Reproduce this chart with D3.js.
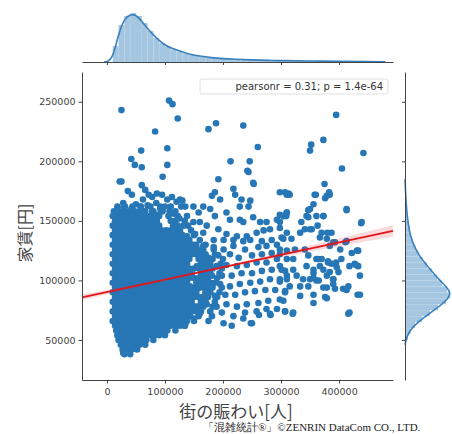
<!DOCTYPE html>
<html>
<head>
<meta charset="utf-8">
<script src="https://cdn.jsdelivr.net/npm/d3@7"></script>
<style>
  body { margin: 0; background: #fff; }
  .tick text { font-family: "DejaVu Sans", sans-serif; fill: #444; }
</style>
</head>
<body>
<svg id="chart" width="452" height="434"></svg>
<script>
// values (population in thousands of people, rent in thousands of yen)
const xTicks = [0, 100000, 200000, 300000, 400000];
const yTicks = [50000, 100000, 150000, 200000, 250000];

// the solid core of the cloud, one row per rent level: [rent, [population...]]
const coreRows = [
  [162, [18, 30, 44, 58, 75, 92, 110, 128]],
  [158, [12, 21, 30, 39, 48, 57, 66, 80, 96, 118]],
  [154, [10, 18, 26, 34, 42, 50, 58, 66, 74, 82, 90, 106, 122]],
  [150, [14, 22, 30, 38, 46, 54, 62, 70, 78, 86, 110, 118, 134]],
  [146, [10, 18, 26, 34, 42, 50, 58, 66, 74, 82, 90, 114, 122, 140]],
  [142, [14, 22, 30, 38, 46, 54, 62, 70, 78, 86, 94, 102, 110, 118, 126, 145]],
  [138, [10, 18, 26, 34, 42, 50, 58, 66, 74, 82, 90, 98, 106, 114, 122, 130, 150]],
  [134, [14, 22, 30, 38, 46, 54, 62, 70, 78, 86, 94, 102, 110, 118, 126, 134, 142, 160]],
  [130, [10, 18, 26, 34, 42, 50, 58, 66, 74, 82, 90, 98, 106, 114, 122, 130, 138, 146, 154, 170]],
  [126, [14, 22, 30, 38, 46, 54, 62, 70, 78, 86, 94, 102, 110, 118, 126, 134, 142, 150, 158, 166, 184]],
  [122, [10, 18, 26, 34, 42, 50, 58, 66, 74, 82, 90, 98, 106, 114, 122, 130, 138, 146, 154, 162, 170, 186]],
  [118, [14, 22, 30, 38, 46, 54, 62, 70, 78, 86, 94, 102, 110, 118, 126, 134, 142, 158, 166, 174, 182, 200]],
  [114, [10, 18, 26, 34, 42, 50, 58, 66, 74, 82, 90, 98, 106, 114, 122, 130, 138, 162, 170, 178, 196]],
  [110, [14, 22, 30, 38, 46, 54, 62, 70, 78, 86, 94, 102, 110, 118, 126, 134, 142, 150, 158, 166, 182, 198]],
  [106, [10, 18, 26, 34, 42, 50, 58, 66, 74, 82, 90, 98, 106, 114, 122, 130, 138, 146, 162, 170, 178, 194]],
  [102, [14, 22, 30, 38, 46, 54, 62, 70, 78, 86, 94, 102, 110, 118, 126, 134, 142, 150, 158, 166, 174, 190]],
  [98,  [10, 18, 26, 34, 42, 50, 58, 66, 74, 82, 90, 98, 106, 114, 122, 130, 138, 154, 162, 170, 178, 186]],
  [94,  [14, 22, 30, 38, 46, 54, 62, 70, 78, 86, 94, 102, 110, 118, 126, 134, 142, 150, 158, 166, 174, 182, 198]],
  [90,  [10, 18, 26, 34, 42, 50, 58, 66, 74, 82, 90, 98, 106, 114, 122, 130, 138, 146, 154, 170, 178, 194]],
  [86,  [14, 22, 30, 38, 46, 54, 62, 70, 78, 86, 94, 102, 110, 118, 126, 134, 142, 150, 158, 166, 174, 190]],
  [82,  [10, 18, 26, 34, 42, 50, 58, 66, 74, 82, 90, 98, 106, 114, 122, 130, 138, 146, 162, 170, 186]],
  [78,  [14, 22, 30, 38, 46, 54, 62, 70, 78, 86, 94, 102, 110, 118, 126, 134, 142, 150, 158, 166, 182]],
  [74,  [10, 18, 26, 34, 42, 50, 58, 66, 74, 82, 90, 98, 106, 114, 122, 130, 138, 146, 154, 162, 178]],
  [70,  [14, 22, 30, 38, 46, 54, 62, 70, 78, 86, 94, 102, 110, 118, 126, 134, 142, 158]],
  [66,  [10, 18, 26, 34, 42, 50, 58, 66, 74, 82, 90, 98, 106, 114, 122, 130, 138, 150]],
  [62,  [14, 22, 30, 38, 46, 54, 62, 70, 78, 86, 94, 102, 110, 118, 126, 134]],
  [58,  [16, 24, 32, 40, 48, 56, 64, 72, 80, 88, 96, 104, 118]],
  [54,  [18, 26, 34, 42, 50, 58, 66, 74, 82, 90, 100]],
  [50,  [20, 28, 36, 44, 52, 60, 68, 80]],
  [46,  [24, 32, 40, 48, 56, 66]],
  [42,  [27, 35, 43, 52]],
  [38,  [30, 40]]
];

// loose points: [population, rent]
const spread = [
  [22,183],[36,175],[43,172],[60,180],[66,176],[72,172],[62,168],[78,170],[86,173],[95,172],
  [104,168],[112,170],[120,166],[130,167],[28,165],[31,162],[50,164],[58,162],[70,163],[85,165],
  [92,160],[100,162],[108,158],[115,156],[125,152],[88,155],[78,158],[65,158],[42,160],[20,160],
  [244,191],[192,185],[252,182],[298,174],[310,172],[218,177],[221,172],[186,174],[181,171],[195,168],
  [232,168],[247,167],[244,162],[229,162],[126,168],[135,162],[149,162],[166,162],[138,154],[158,157],
  [178,160],[186,154],[206,157],[212,151],[229,151],[252,153],[235,149],[264,149],[275,149],[293,151],
  [304,154],[310,157],[270,142],[281,143],[298,144],[310,140],[258,140],[241,137],[224,137],[206,139],
  [192,143],[172,146],[160,149],[149,149],[132,146],[138,137],[152,139],[166,140],[184,134],[201,134],
  [218,134],[235,133],[247,134],[267,133],[284,134],[301,136],[293,130],[275,129],[261,128],[238,126],
  [218,129],[201,126],[184,128],[166,129],[149,130],[132,129],[126,121],[143,122],[158,121],[175,119],
  [192,121],[212,122],[227,119],[250,121],[267,122],[284,123],[298,122],[310,125],[293,118],[275,115],
  [258,115],[241,113],[224,112],[206,113],[189,112],[172,111],[155,112],[138,109],[126,104],[146,104],
  [163,102],[181,104],[198,104],[215,104],[232,106],[250,106],[267,108],[284,109],[301,109],[310,104],
  [298,99],[281,101],[264,99],[247,98],[229,97],[212,95],[195,97],[178,95],[160,94],[143,95],
  [132,90],[152,87],[169,88],[186,87],[204,88],[221,88],[238,90],[255,91],[273,92],[290,92],
  [307,91],[298,84],[278,83],[261,81],[241,80],[224,78],[206,80],[189,78],[172,80],[155,78],
  [138,78],[143,70],[160,72],[181,70],[198,73],[218,70],[238,73],[258,74],[275,76],[293,76],
  [281,72],[250,64],[135,63],[201,64],[150,68],[175,66],[215,62],[235,68],[262,71],[320,72],
  [358,172],[384,172],[376,169],[356,164],[347,159],[413,160],[439,149],[307,174],[315,172],[310,157],
  [304,154],[298,149],[335,149],[344,154],[361,154],[373,154],[353,143],[341,143],[333,140],[370,140],
  [387,140],[367,136],[379,135],[393,132],[413,133],[304,135],[318,135],[298,126],[324,126],[341,126],
  [384,129],[402,126],[422,123],[433,125],[310,118],[321,118],[347,121],[361,118],[370,118],[381,116],
  [387,114],[404,118],[427,114],[433,112],[298,112],[307,108],[321,109],[344,112],[356,109],[367,112],
  [373,109],[396,111],[384,107],[399,107],[327,104],[338,101],[350,101],[356,102],[361,100],[379,104],
  [390,101],[310,101],[298,101],[315,95],[333,95],[347,95],[373,94],[390,97],[393,93],[416,95],
  [407,93],[307,90],[333,87],[356,88],[376,86],[436,88],[304,83],[321,73],[307,74],[416,72]
];

const outliers = [
  [25,243],[107,251],[113,248],[122,236],[83,225],[175,227],[188,232],[235,230],[395,239],[373,218],
  [352,214],[350,209],[442,207],[260,212],[405,194],[213,200],[246,200],[242,192],[104,211],[59,209],
  [42,202],[48,197],[60,195],[104,197],[96,187],[25,183],[253,181],[375,181],[313,173],[360,172],
  [379,171],[383,174],[350,160],[347,153],[373,154],[413,159],[438,148],[350,143],[363,146],[380,140],
  [298,155],[309,154],[390,132],[411,132],[431,125],[364,118],[381,115],[395,115],[418,112],[429,113],
  [356,106],[365,100],[390,101],[379,94],[413,92],[432,88],[436,104],[418,73],[379,85],[356,81],
  [282,71],[307,74],[248,64],[134,62],[97,55],[28,39],[40,47],[54,48]
];

// regression line end points and its confidence band: [population, low, high]
const regLine = [[-43, 85.7], [493, 141.6]];
const regBand = [[-43,83.3,88.1],[0,88.4,92],[100,99.7,101.5],[150,104.9,106.5],[200,110,112.2],
                 [300,119.5,123.5],[400,128.7,135.3],[493,136.8,146.4]];

// top margin: population histogram (10k bins from 10k) and kde
const popBinStart = 10, popBinWidth = 10;
const popHist = [16, 37, 46, 49, 46, 39, 31, 24, 19, 15.5, 12.5, 10.5, 8.5, 7, 6, 5.2, 4.5, 4, 3.6, 3.2,
                 2.9, 2.7, 2.5, 2.3, 2.1, 2, 1.8, 1.7, 1.6, 1.5, 1.4, 1.3, 1.2, 1.1, 1.0, 1.0, 0.9, 0.8,
                 0.8, 0.7, 0.6, 0.5, 0.5, 0.4];
const popKde = [[-5,0],[0,0.4],[5,2],[10,6],[15,16],[20,27],[25,36],[30,42],[35,45.5],[40,47],[45,47.5],
                [50,46.5],[55,44],[60,40.5],[70,33.5],[80,27],[90,21.5],[100,17],[110,14],[120,12],
                [140,8],[160,5.8],[180,4.3],[200,3.3],[220,2.7],[250,2.1],[280,1.6],[300,1.4],
                [350,1.0],[400,0.7],[450,0.4],[480,0.1]];

// right margin: rent histogram (5k bins from 45k) and kde
const rentBinStart = 45, rentBinWidth = 5;
const rentHist = [1, 3, 5.5, 10, 17, 25, 33, 41, 45, 42, 37, 32, 27, 22, 17.5, 13.5, 10.5, 8, 6,
                  4.5, 3.3, 2.4, 1.8, 1.3, 1, 0.8, 0.6, 0.5];
const rentKde = [[46,0],[50,1],[55,3],[60,7],[65,13],[70,21],[75,29],[80,37],[85,43],[88,45],
                 [91,44.5],[95,41],[100,35],[105,29.5],[110,24.5],[115,19.5],[120,15],[125,11.5],
                 [130,8.7],[135,6.5],[140,4.8],[150,2.8],[160,1.6],[170,0.8],[185,0]];

const K = 1000;

const svg = d3.select("#chart");

const x = d3.scaleLinear().domain([-43000, 493000]).range([82, 393]);
const y = d3.scaleLinear().domain([16400, 275000]).range([380, 72]);
const hTop = d3.scaleLinear().domain([0, 48]).range([62, 14]);
const wRight = d3.scaleLinear().domain([0, 45]).range([405, 450]);

const points = coreRows.flatMap(([r, xs]) => xs.map(p => [p, r]))
  .concat(spread)
  .concat(outliers);

// scatter
svg.append("g")
  .selectAll("circle")
  .data(points)
  .enter()
  .append("circle")
  .attr("cx", d => x(d[0] * K))
  .attr("cy", d => y(d[1] * K))
  .attr("r", 3.3)
  .style("fill", "#2777b6");

// regression band + line
let band = d3.area()
  .x(d => x(d[0] * K))
  .y0(d => y(d[1] * K))
  .y1(d => y(d[2] * K));
svg.append("path")
  .attr("d", band(regBand))
  .style("fill", "#e8262a")
  .style("fill-opacity", 0.18);

svg.append("path")
  .attr("d", d3.line().x(d => x(d[0] * K)).y(d => y(d[1] * K))(regLine))
  .style("fill", "none")
  .style("stroke", "#e3161c")
  .style("stroke-width", 1.8);

// main axes
let xAxis = svg.append("g")
  .attr("transform", "translate(0,380)")
  .call(d3.axisBottom(x).tickValues(xTicks).tickSize(3.5).tickSizeOuter(0).tickFormat(d3.format("d")));
let yAxis = svg.append("g")
  .attr("transform", "translate(82,0)")
  .call(d3.axisLeft(y).tickValues(yTicks).tickSize(3.5).tickSizeOuter(0).tickFormat(d3.format("d")));
[xAxis, yAxis].forEach(a => {
  a.select(".domain").style("stroke", "#444");
  a.selectAll(".tick line").style("stroke", "#444");
  a.selectAll(".tick text").style("font-size", "9.5px");
});
xAxis.selectAll(".tick text").attr("dy", "0.9em");

// top marginal
let topG = svg.append("g");
topG.selectAll("rect")
  .data(popHist)
  .enter()
  .append("rect")
  .attr("x", (d, i) => x((popBinStart + i * popBinWidth) * K))
  .attr("width", x(popBinWidth * K) - x(0))
  .attr("y", d => hTop(d))
  .attr("height", d => hTop(0) - hTop(d))
  .style("fill", "#a4c6e0");
topG.append("path")
  .attr("d", d3.line().curve(d3.curveBasis).x(d => x(d[0] * K)).y(d => hTop(d[1]))(popKde))
  .style("fill", "none")
  .style("stroke", "#3a7fbb")
  .style("stroke-width", 1.6);
let topAxis = svg.append("g")
  .attr("transform", "translate(0,62)")
  .call(d3.axisBottom(x).tickValues(xTicks).tickSize(3).tickSizeOuter(0).tickFormat(""));
topAxis.selectAll("path, line").style("stroke", "#444");

// right marginal
let rightG = svg.append("g");
rightG.selectAll("rect")
  .data(rentHist)
  .enter()
  .append("rect")
  .attr("y", (d, i) => y((rentBinStart + (i + 1) * rentBinWidth) * K))
  .attr("height", y(0) - y(rentBinWidth * K))
  .attr("x", wRight(0))
  .attr("width", d => wRight(d) - wRight(0))
  .style("fill", "#a4c6e0");
rightG.append("path")
  .attr("d", d3.line().curve(d3.curveBasis).x(d => wRight(d[1])).y(d => y(d[0] * K))(rentKde))
  .style("fill", "none")
  .style("stroke", "#3a7fbb")
  .style("stroke-width", 1.6);
let rightAxis = svg.append("g")
  .attr("transform", "translate(405,0)")
  .call(d3.axisLeft(y).tickValues(yTicks).tickSize(3).tickSizeOuter(0).tickFormat(""));
rightAxis.selectAll("path, line").style("stroke", "#444");

// legend
svg.append("rect")
  .attr("x", 200).attr("y", 79).attr("width", 188).attr("height", 15).attr("rx", 2)
  .style("fill", "#fff").style("fill-opacity", 0.85)
  .style("stroke", "#d8d8d8").style("stroke-width", 0.8);
svg.append("text")
  .attr("x", 383).attr("y", 90)
  .attr("text-anchor", "end")
  .style("font-family", "DejaVu Sans, sans-serif")
  .style("font-size", "10px")
  .style("fill", "#333")
  .text("pearsonr = 0.31; p = 1.4e-64");

// axis titles
svg.append("text")
  .attr("x", 236).attr("y", 418)
  .attr("text-anchor", "middle")
  .style("font-family", "Noto Sans CJK JP, sans-serif")
  .style("font-size", "17px")
  .style("fill", "#444")
  .text("街の賑わい[人]");
svg.append("text")
  .attr("transform", "translate(31,233) rotate(-90)")
  .attr("text-anchor", "middle")
  .style("font-family", "Noto Sans CJK JP, sans-serif")
  .style("font-size", "16px")
  .style("fill", "#444")
  .text("家賃[円]");

// credit
svg.append("text")
  .attr("x", 203).attr("y", 431)
  .style("font-family", "Liberation Serif, serif")
  .style("font-size", "11px")
  .style("fill", "#222")
  .text("「混雑統計®」©ZENRIN DataCom CO., LTD.");
</script>
</body>
</html>
